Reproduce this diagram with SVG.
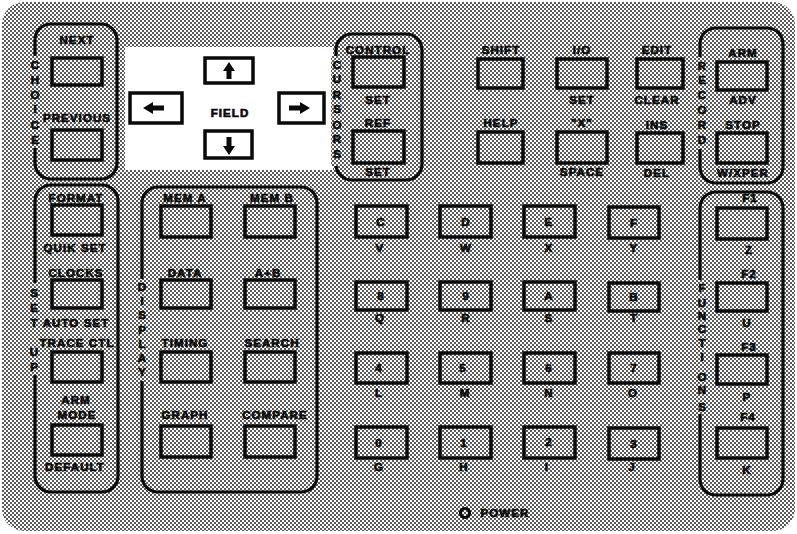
<svg xmlns="http://www.w3.org/2000/svg" width="797" height="534" viewBox="0 0 797 534">
<defs>
<pattern id="ht" width="4" height="4" patternUnits="userSpaceOnUse">
<rect width="4" height="4" fill="#ffffff"/>
<rect x="0" y="0" width="2" height="2" fill="#5a5a5a"/>
<rect x="2" y="2" width="2" height="2" fill="#5a5a5a"/>
</pattern>
<style>
.key{fill:none;stroke:#0a0a0a;stroke-width:3.5}
.wkey{fill:#fff;stroke:#0a0a0a;stroke-width:3.5}
.grp{fill:none;stroke:#0a0a0a;stroke-width:3.2}
.gap{fill:url(#ht);stroke:none}
text{font-family:"Liberation Sans",Arial,sans-serif;font-weight:bold;font-size:11.5px;fill:#0a0a0a;stroke:#0a0a0a;stroke-width:0.7px;text-anchor:middle;letter-spacing:1.1px}
.v{letter-spacing:0}
.arr{fill:#0a0a0a}
</style>
</defs>
<rect width="797" height="534" fill="#fff"/>
<rect x="2" y="2" width="793" height="529" rx="22" fill="url(#ht)"/>
<rect x="125" y="47" width="208" height="123" fill="#fff"/>

<!-- group outlines -->
<g id="groups">
<rect class="grp" x="35" y="24" width="82" height="155" rx="16"/>
<rect class="gap" x="30" y="56" width="10" height="92"/>
<rect class="grp" x="336" y="34" width="86" height="146" rx="16"/>
<rect class="gap" x="331" y="56" width="10" height="110"/>
<rect class="grp" x="700" y="28" width="83" height="155" rx="16"/>
<rect class="gap" x="695" y="57" width="10" height="92"/>
<rect class="grp" x="35" y="185" width="83" height="307" rx="16"/>
<rect class="gap" x="29" y="283" width="11" height="92"/>
<rect class="grp" x="142" y="187" width="175" height="305" rx="16"/>
<rect class="gap" x="137" y="279" width="10" height="102"/>
<rect class="grp" x="700" y="192" width="83" height="303" rx="16"/>
<rect class="gap" x="695" y="280" width="10" height="134"/>
</g>

<g id="choice-label">
<text class="v" x="35" y="69">C</text><text class="v" x="35" y="84">H</text><text class="v" x="35" y="99">O</text><text class="v" x="35" y="113">I</text><text class="v" x="35" y="129">C</text><text class="v" x="35" y="144">E</text>
</g>
<g id="cursors-label">
<text class="v" x="337" y="69">C</text><text class="v" x="337" y="83">U</text><text class="v" x="337" y="99">R</text><text class="v" x="337" y="113">S</text><text class="v" x="337" y="129">O</text><text class="v" x="337" y="143">R</text><text class="v" x="337" y="158">S</text>
</g>
<g id="record-label">
<text class="v" x="702" y="70">R</text><text class="v" x="702" y="84">E</text><text class="v" x="702" y="99">C</text><text class="v" x="702" y="114">O</text><text class="v" x="702" y="129">R</text><text class="v" x="702" y="144">D</text>
</g>
<g id="setup-label">
<text class="v" x="34" y="297">S</text><text class="v" x="34" y="312">E</text><text class="v" x="34" y="327">T</text><text class="v" x="34" y="356">U</text><text class="v" x="34" y="371">P</text>
</g>
<g id="display-label">
<text class="v" x="142" y="291">D</text><text class="v" x="142" y="305">I</text><text class="v" x="142" y="319">S</text><text class="v" x="142" y="334">P</text><text class="v" x="142" y="348">L</text><text class="v" x="142" y="362">A</text><text class="v" x="142" y="376">Y</text>
</g>
<g id="functions-label">
<text class="v" x="702" y="292">F</text><text class="v" x="702" y="307">U</text><text class="v" x="702" y="320">N</text><text class="v" x="702" y="333">C</text><text class="v" x="702" y="347">T</text><text class="v" x="702" y="361">I</text><text class="v" x="702" y="381">O</text><text class="v" x="702" y="394">N</text><text class="v" x="702" y="411">S</text>
</g>

<!-- CHOICE keys -->
<g id="next"><text x="77" y="44">NEXT</text><rect class="key" x="52" y="58" width="50" height="27"/></g>
<g id="previous"><text x="77" y="122">PREVIOUS</text><rect class="key" x="52" y="130" width="50" height="30"/></g>

<!-- FIELD -->
<g id="field"><text x="230" y="117">FIELD</text></g>
<g id="up"><rect class="wkey" x="205" y="58" width="48" height="25"/><polygon class="arr" points="229,62 235,71 231.5,71 231.5,79 226.5,79 226.5,71 223,71"/></g>
<g id="down"><rect class="wkey" x="205" y="131" width="47" height="27"/><polygon class="arr" points="229,155 235,146 231.5,146 231.5,137 226.5,137 226.5,146 223,146"/></g>
<g id="left"><rect class="wkey" x="130" y="93" width="52" height="30"/><polygon class="arr" points="143,108 153,102 153,105.5 164,105.5 164,110.5 153,110.5 153,114"/></g>
<g id="right"><rect class="wkey" x="279" y="93" width="45" height="30"/><polygon class="arr" points="310,108 300,102 300,105.5 289,105.5 289,110.5 300,110.5 300,114"/></g>

<!-- CURSORS -->
<g id="control"><text x="378" y="54">CONTROL</text><rect class="key" x="353" y="57" width="51" height="30"/><text x="378" y="104">SET</text></g>
<g id="ref"><text x="378" y="127">REF</text><rect class="key" x="353" y="131" width="51" height="32"/><text x="378" y="176">SET</text></g>

<g id="shift"><text x="501" y="54">SHIFT</text><rect class="key" x="478" y="59" width="45" height="29"/></g>
<g id="help"><text x="501" y="127">HELP</text><rect class="key" x="478" y="132" width="45" height="31"/></g>
<g id="io"><text x="582" y="54">I/O</text><rect class="key" x="557" y="59" width="50" height="29"/><text x="582" y="104">SET</text></g>
<g id="x"><text x="582" y="127">"X"</text><rect class="key" x="557" y="132" width="50" height="31"/><text x="582" y="176">SPACE</text></g>
<g id="edit"><text x="657" y="54">EDIT</text><rect class="key" x="637" y="59" width="46" height="29"/><text x="657" y="104">CLEAR</text></g>
<g id="ins"><text x="657" y="129">INS</text><rect class="key" x="637" y="133" width="46" height="30"/><text x="657" y="177">DEL</text></g>

<!-- RECORD -->
<g id="arm"><text x="743" y="57">ARM</text><rect class="key" x="717" y="62" width="50" height="28"/><text x="743" y="104">ADV</text></g>
<g id="stop"><text x="743" y="129">STOP</text><rect class="key" x="717" y="133" width="50" height="30"/><text x="743" y="177">W/XPER</text></g>

<!-- SETUP -->
<g id="format"><text x="76" y="202">FORMAT</text><rect class="key" x="52" y="205" width="50" height="30"/><text x="75" y="252">QUIK SET</text></g>
<g id="clocks"><text x="76" y="277">CLOCKS</text><rect class="key" x="52" y="280" width="50" height="28"/><text x="76" y="327">AUTO SET</text></g>
<g id="tracectl"><text x="77" y="347">TRACE CTL</text><rect class="key" x="52" y="352" width="50" height="30"/></g>
<g id="armmode"><text x="76" y="404">ARM</text><text x="77" y="419">MODE</text><rect class="key" x="52" y="425" width="50" height="30"/><text x="75" y="471">DEFAULT</text></g>

<!-- DISPLAY -->
<g id="mema"><text x="185" y="202">MEM A</text><rect class="key" x="161" y="206" width="50" height="31"/></g>
<g id="memb"><text x="272" y="202">MEM B</text><rect class="key" x="245" y="206" width="50" height="31"/></g>
<g id="data"><text x="185" y="277">DATA</text><rect class="key" x="161" y="280" width="50" height="28"/></g>
<g id="aplusb"><text x="268" y="277">A+B</text><rect class="key" x="245" y="280" width="50" height="28"/></g>
<g id="timing"><text x="185" y="347">TIMING</text><rect class="key" x="161" y="352" width="50" height="30"/></g>
<g id="search"><text x="272" y="347">SEARCH</text><rect class="key" x="245" y="352" width="50" height="30"/></g>
<g id="graph"><text x="185" y="419">GRAPH</text><rect class="key" x="161" y="426" width="50" height="31"/></g>
<g id="compare"><text x="275" y="419">COMPARE</text><rect class="key" x="245" y="426" width="50" height="31"/></g>

<!-- HEX keys -->
<g id="kC"><rect class="key" x="356" y="206" width="51" height="31"/><text x="381" y="226">C</text><text x="380" y="252">V</text></g>
<g id="kD"><rect class="key" x="440" y="206" width="51" height="31"/><text x="466" y="226">D</text><text x="466" y="252">W</text></g>
<g id="kE"><rect class="key" x="524" y="206" width="51" height="31"/><text x="549" y="226">E</text><text x="549" y="252">X</text></g>
<g id="kF"><rect class="key" x="609" y="207" width="50" height="31"/><text x="634" y="227">F</text><text x="634" y="252">Y</text></g>

<g id="k8"><rect class="key" x="356" y="282" width="51" height="28"/><text x="381" y="300">8</text><text x="380" y="322">Q</text></g>
<g id="k9"><rect class="key" x="440" y="282" width="51" height="28"/><text x="466" y="300">9</text><text x="466" y="322">R</text></g>
<g id="kA"><rect class="key" x="524" y="282" width="51" height="28"/><text x="549" y="300">A</text><text x="549" y="322">S</text></g>
<g id="kB"><rect class="key" x="609" y="283" width="50" height="28"/><text x="634" y="301">B</text><text x="634" y="322">T</text></g>

<g id="k4"><rect class="key" x="356" y="353" width="51" height="30"/><text x="379" y="372">4</text><text x="379" y="397">L</text></g>
<g id="k5"><rect class="key" x="440" y="353" width="51" height="30"/><text x="463" y="372">5</text><text x="465" y="397">M</text></g>
<g id="k6"><rect class="key" x="524" y="353" width="51" height="30"/><text x="549" y="372">6</text><text x="549" y="397">N</text></g>
<g id="k7"><rect class="key" x="609" y="353" width="50" height="30"/><text x="634" y="372">7</text><text x="633" y="397">O</text></g>

<g id="k0"><rect class="key" x="356" y="427" width="51" height="31"/><text x="379" y="447">0</text><text x="379" y="471">G</text></g>
<g id="k1"><rect class="key" x="440" y="427" width="51" height="31"/><text x="464" y="447">1</text><text x="464" y="471">H</text></g>
<g id="k2"><rect class="key" x="524" y="427" width="51" height="31"/><text x="549" y="446">2</text><text x="547" y="471">I</text></g>
<g id="k3"><rect class="key" x="609" y="428" width="50" height="31"/><text x="634" y="448">3</text><text x="632" y="471">J</text></g>

<!-- FUNCTIONS -->
<g id="f1"><text x="750" y="202">F1</text><rect class="key" x="717" y="208" width="50" height="31"/><text x="749" y="254">Z</text></g>
<g id="f2"><text x="749" y="278">F2</text><rect class="key" x="717" y="283" width="50" height="28"/><text x="747" y="327">U</text></g>
<g id="f3"><text x="749" y="351">F3</text><rect class="key" x="717" y="355" width="50" height="29"/><text x="747" y="401">P</text></g>
<g id="f4"><text x="748" y="421">F4</text><rect class="key" x="717" y="428" width="50" height="30"/><text x="747" y="474">K</text></g>

<g id="power"><circle cx="465" cy="513" r="4.5" fill="none" stroke="#0a0a0a" stroke-width="3.2"/><text x="505" y="517">POWER</text></g>
</svg>
